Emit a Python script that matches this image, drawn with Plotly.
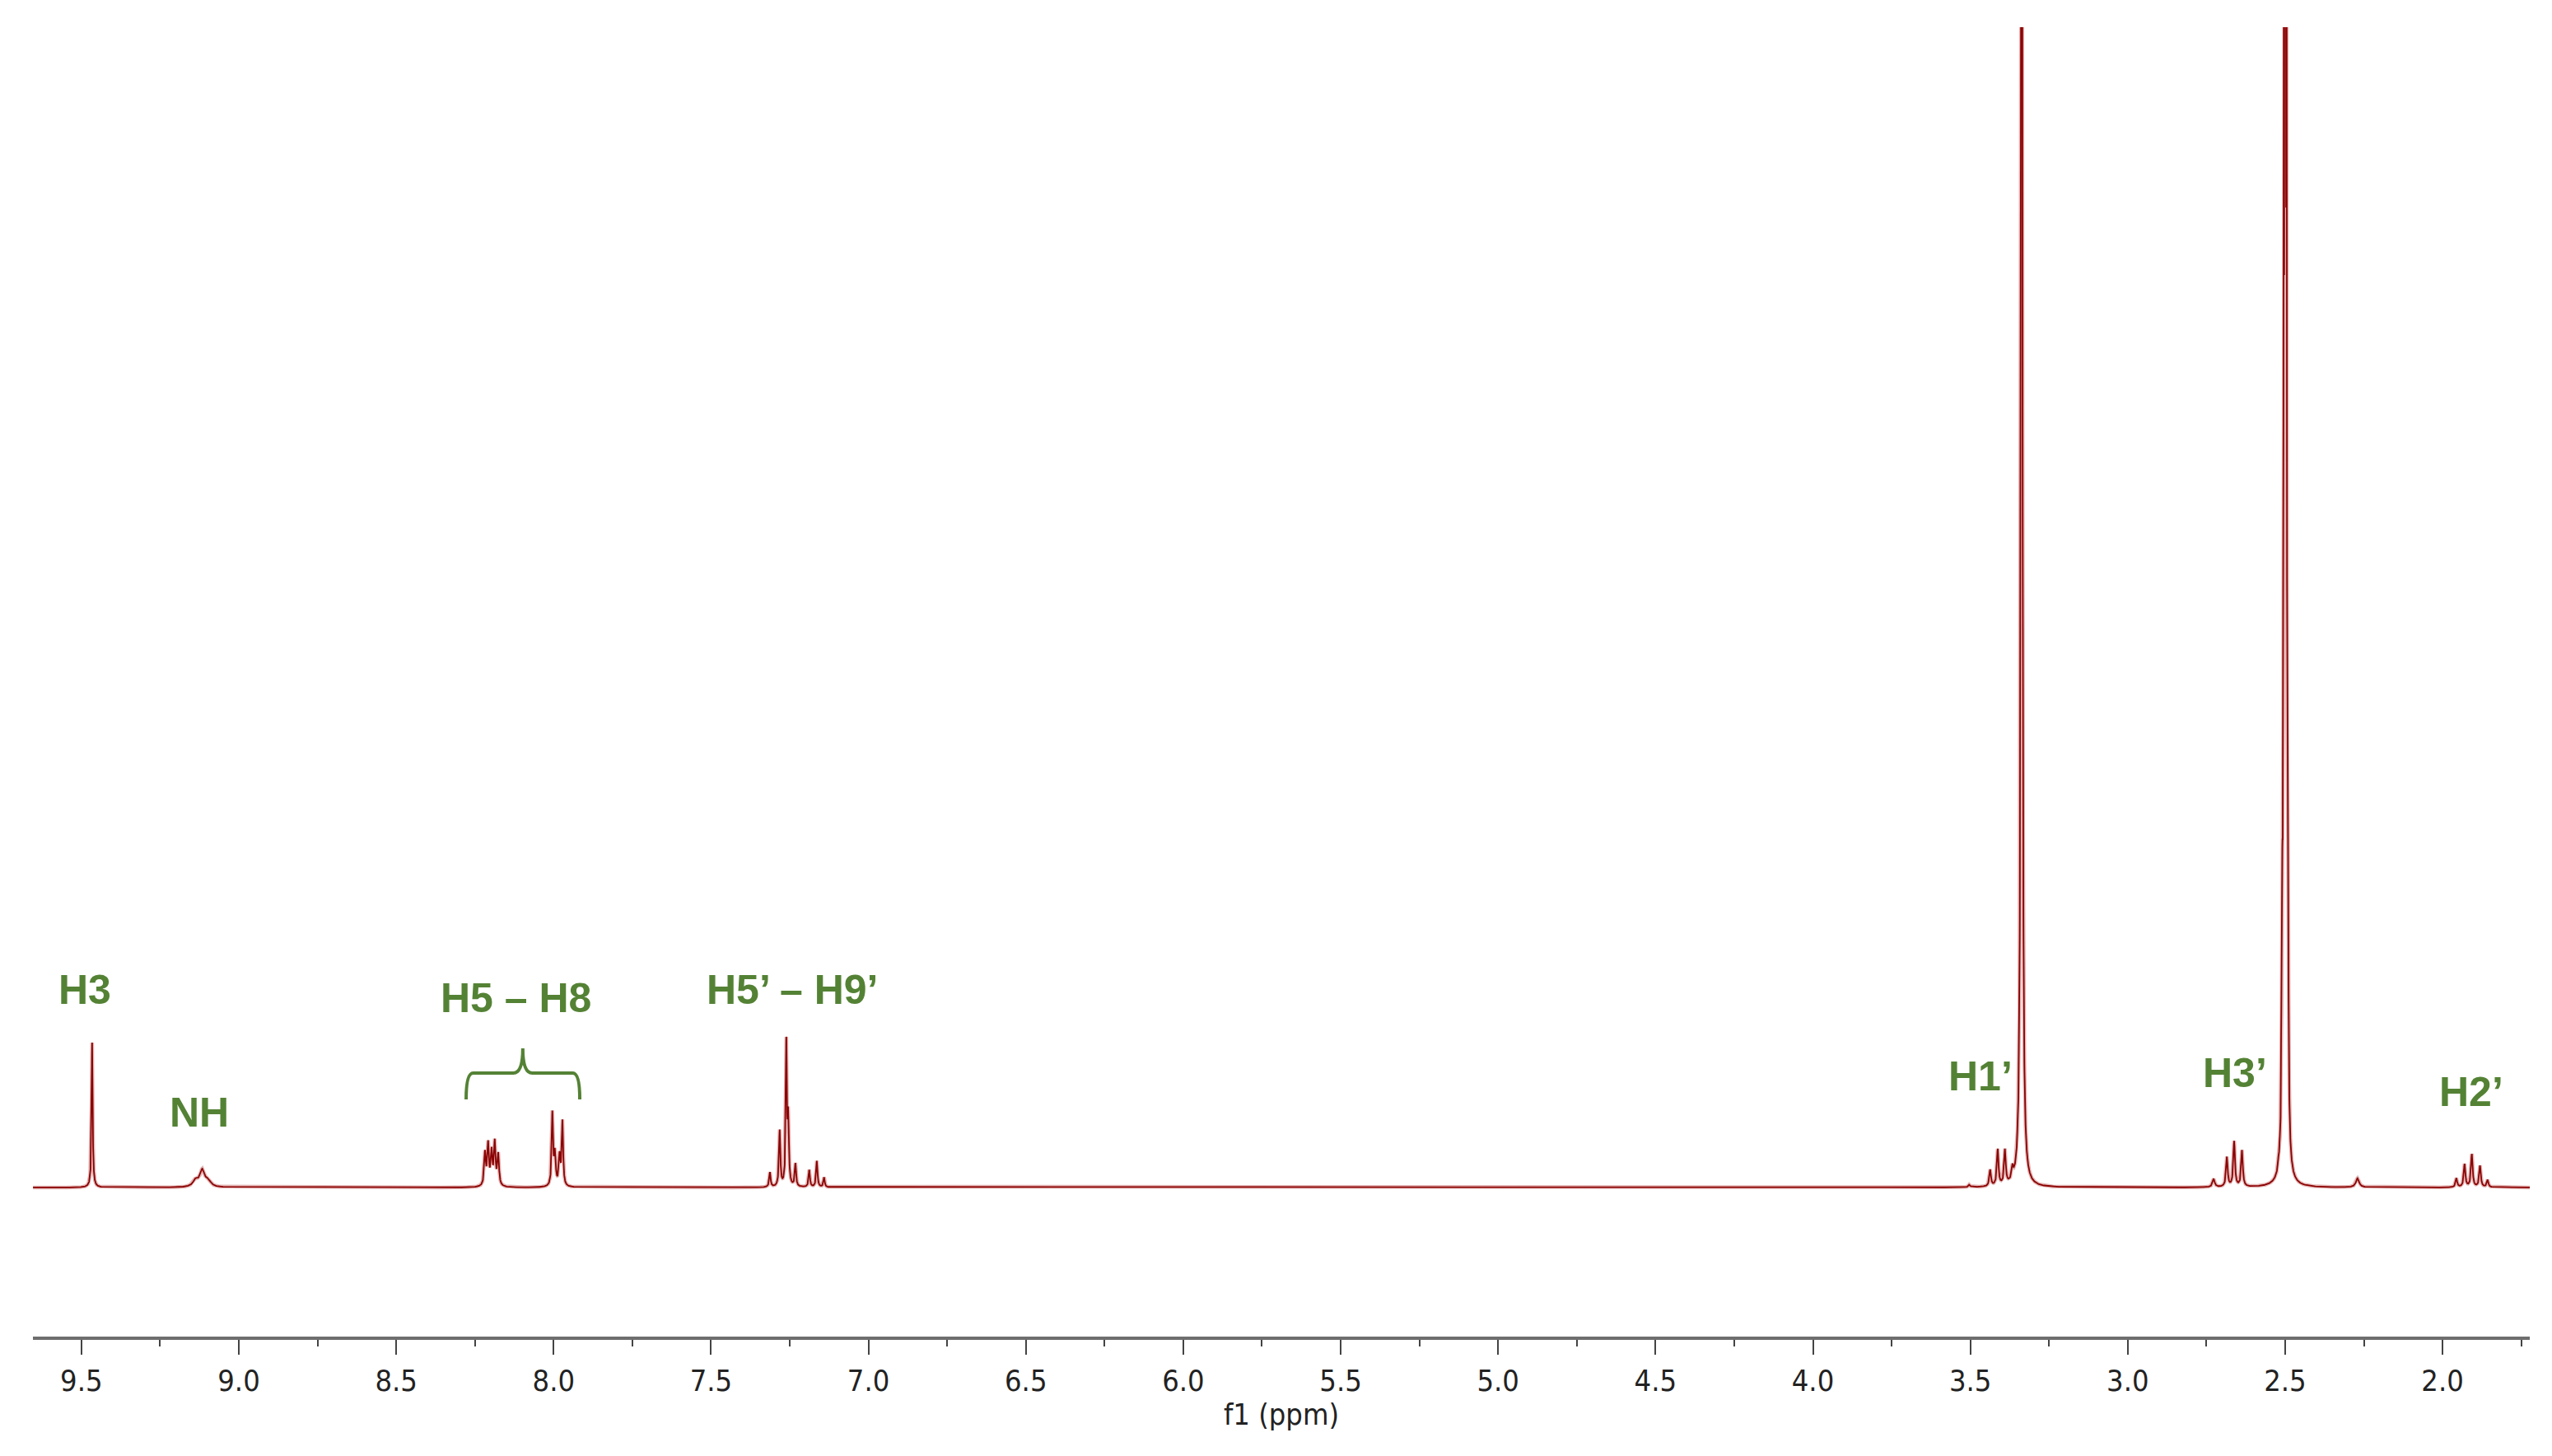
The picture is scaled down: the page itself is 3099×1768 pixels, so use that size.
import numpy as np
import plotly.graph_objects as go

# ---- data (chemical shift in ppm, height, line width in ppm) ----
peak_ppm = [9.466,
            9.137, 9.116, 9.097,
            8.218, 8.208, 8.197, 8.187, 8.176,
            8.004, 7.996, 7.981, 7.972,
            7.313, 7.282, 7.261, 7.255, 7.232, 7.188, 7.164, 7.141,
            3.503, 3.437, 3.413, 3.390, 3.366,
            3.337,
            2.727, 2.685, 2.662, 2.637,
            2.521,
            2.491, 2.4955, 2.500, 2.5045, 2.509,
            2.270,
            1.956, 1.930, 1.907, 1.881, 1.857]
peak_height = [176,
               8, 20, 7,
               40, 50, 40, 52, 38,
               88, 38, 36, 78,
               18, 68, 170, 80, 28, 21, 32, 12,
               3, 20, 44, 42, 14,
               3000,
               10, 36, 55, 44,
               8,
               250, 1250, 3500, 1000, 250,
               11,
               11, 28, 40, 26, 9]
peak_width = [0.004,
              0.02, 0.018, 0.02,
              0.006, 0.006, 0.006, 0.006, 0.006,
              0.005, 0.006, 0.006, 0.005,
              0.005, 0.005, 0.004, 0.005, 0.005, 0.005, 0.005, 0.005,
              0.006, 0.006, 0.006, 0.006, 0.006,
              0.004,
              0.008, 0.006, 0.006, 0.006,
              0.003,
              0.004, 0.0022, 0.003, 0.0022, 0.004,
              0.012,
              0.006, 0.006, 0.006, 0.006, 0.006]

ppm_start, ppm_end = 9.654, 1.723

label_text = ["H3", "NH", "H5 – H8", "H5’ – H9’", "H1’", "H3’", "H2’"]
label_ppm = [9.490, 9.126, 8.119, 7.243, 3.468, 2.660, 1.909]
label_y = [240, 91, 230, 240, 135, 139, 116]

bracket_left, bracket_mid, bracket_right = 8.278, 8.098, 7.917
bracket_end_y, bracket_bar_y, bracket_tip_y = 107, 139, 169

major_ticks = [9.5, 9.0, 8.5, 8.0, 7.5, 7.0, 6.5, 6.0, 5.5, 5.0, 4.5, 4.0, 3.5, 3.0, 2.5, 2.0]
major_labels = ["9.5", "9.0", "8.5", "8.0", "7.5", "7.0", "6.5", "6.0",
                "5.5", "5.0", "4.5", "4.0", "3.5", "3.0", "2.5", "2.0"]

# ---- spectrum from the peak list (Lorentzian line shapes) ----
x = np.arange(ppm_end, ppm_start, 0.0003)
y = np.zeros_like(x)
for c, h, w in zip(peak_ppm, peak_height, peak_width):
    y += h / (1.0 + ((x - c) / (w / 2.0)) ** 2)

fig = go.Figure()
fig.add_trace(go.Scatter(x=x, y=y, mode="lines",
                         line=dict(color="rgba(185,70,70,0.40)", width=4.5),
                         hoverinfo="skip", showlegend=False))
fig.add_trace(go.Scatter(x=x, y=y, mode="lines",
                         line=dict(color="#8b0000", width=1.8),
                         showlegend=False))

green = "#548235"
for t, px, py in zip(label_text, label_ppm, label_y):
    fig.add_annotation(x=px, y=py, text=t, showarrow=False, xref="x", yref="y",
                       xanchor="center", yanchor="middle",
                       font=dict(family="Liberation Sans, Arial, sans-serif",
                                 size=50, color=green, weight="bold"))

# curly bracket over H5 - H8
r = 0.022   # corner size (ppm)
m = 0.03    # tip shoulder (ppm)
path = (f"M {bracket_left},{bracket_end_y} "
        f"Q {bracket_left},{bracket_bar_y} {bracket_left - r},{bracket_bar_y} "
        f"L {bracket_mid + m},{bracket_bar_y} "
        f"Q {bracket_mid},{bracket_bar_y} {bracket_mid},{bracket_tip_y} "
        f"Q {bracket_mid},{bracket_bar_y} {bracket_mid - m},{bracket_bar_y} "
        f"L {bracket_right + r},{bracket_bar_y} "
        f"Q {bracket_right},{bracket_bar_y} {bracket_right},{bracket_end_y}")
fig.add_shape(type="path", path=path, xref="x", yref="y",
              line=dict(color=green, width=4))

# page body has an 8px margin, so the figure is sized to fit inside the window
fig.update_layout(
    width=3083, height=1752,
    margin=dict(l=32, r=19, t=25, b=137, autoexpand=False),
    paper_bgcolor="white", plot_bgcolor="white",
    showlegend=False,
)
fig.update_xaxes(
    range=[ppm_start, ppm_end], autorange=False,
    showgrid=False, zeroline=False,
    showline=True, linecolor="#6e6e6e", linewidth=4,
    ticks="outside", ticklen=18, tickwidth=2, tickcolor="#444444",
    tickmode="array", tickvals=major_ticks, ticktext=major_labels,
    tickfont=dict(family="DejaVu Sans Condensed, DejaVu Sans, sans-serif", size=36, color="#222222"),
    ticklabelstandoff=1,
    minor=dict(ticks="outside", ticklen=8, tickwidth=2, tickcolor="#444444", dtick=0.25, tick0=0, showgrid=False),
    title=dict(text="f1 (ppm)", standoff=2,
               font=dict(family="DejaVu Sans Condensed, DejaVu Sans, sans-serif", size=36, color="#222222")),
    automargin=False,
)
fig.update_yaxes(range=[-181, 1409], autorange=False, visible=False,
                 showgrid=False, zeroline=False)

fig.write_html("out.html")
